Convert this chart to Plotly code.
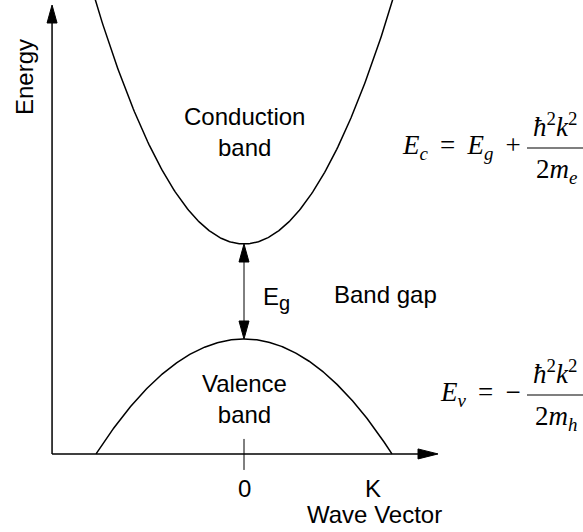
import numpy as np
import plotly.graph_objects as go

# Band parameters (energies in units of the gap, k in units of K)
E_GAP = 1.0
C_COND = 1.93      # hbar^2 / 2 m_e
C_VAL = 0.92       # hbar^2 / 2 m_h
E_AXIS = -1.21     # energy at which the k axis is drawn
K_AXIS_START = -1.488
K_AXIS_END = 1.504

tick_k = [0.0, 1.0]
tick_labels = ["0", "K"]

band_labels = ["Conduction<br>band", "Valence<br>band"]

W, H = 583, 532
X_RANGE = [-1.8915, 2.6279]
Y_RANGE = [-2.0316, 3.5684]


def kx(px):
    return X_RANGE[0] + px / W * (X_RANGE[1] - X_RANGE[0])


def ey(py):
    return Y_RANGE[1] - py / H * (Y_RANGE[1] - Y_RANGE[0])


def dk(dpx):
    return dpx / W * (X_RANGE[1] - X_RANGE[0])


def de(dpx):
    return dpx / H * (Y_RANGE[1] - Y_RANGE[0])


k_cond = np.linspace(-1.4, 1.4, 301)
e_cond = E_GAP + C_COND * k_cond ** 2
k_edge = np.sqrt(-E_AXIS / C_VAL)
k_val = np.linspace(-k_edge, k_edge, 301)
e_val = -C_VAL * k_val ** 2

fig = go.Figure()
fig.add_trace(go.Scatter(x=k_cond, y=e_cond, mode="lines",
                         line=dict(color="black", width=1.5), hoverinfo="skip"))
fig.add_trace(go.Scatter(x=k_val, y=e_val, mode="lines",
                         line=dict(color="black", width=1.5), hoverinfo="skip"))

shapes = []
line_style = dict(color="black", width=1.5)
# energy axis
shapes.append(dict(type="line", x0=K_AXIS_START, x1=K_AXIS_START, y0=E_AXIS,
                   y1=ey(20), line=line_style))
tip_y = ey(5)
shapes.append(dict(type="path",
                   path=f"M {K_AXIS_START},{tip_y} L {K_AXIS_START - dk(5)},{tip_y - de(18)} "
                        f"L {K_AXIS_START + dk(5)},{tip_y - de(18)} Z",
                   fillcolor="black", line=dict(color="black", width=1)))
# wave vector axis
shapes.append(dict(type="line", x0=K_AXIS_START, x1=K_AXIS_END - dk(15), y0=E_AXIS,
                   y1=E_AXIS, line=line_style))
shapes.append(dict(type="path",
                   path=f"M {K_AXIS_END},{E_AXIS} L {K_AXIS_END - dk(20)},{E_AXIS + de(5)} "
                        f"L {K_AXIS_END - dk(20)},{E_AXIS - de(5)} Z",
                   fillcolor="black", line=dict(color="black", width=1)))
# tick at k = 0
shapes.append(dict(type="line", x0=0, x1=0, y0=E_AXIS + de(15), y1=E_AXIS - de(16),
                   line=dict(color="black", width=1)))
# band-gap double arrow
shapes.append(dict(type="line", x0=0, x1=0, y0=de(16), y1=E_GAP - de(16),
                   line=dict(color="black", width=1)))
for tip, sgn in [(E_GAP, -1), (0.0, 1)]:
    base = tip + sgn * de(18)
    shapes.append(dict(type="path",
                       path=f"M 0,{tip} L {-dk(5)},{base} L {dk(5)},{base} Z",
                       fillcolor="black", line=dict(color="black", width=1)))

SANS = dict(family="Liberation Sans, Arial, sans-serif", size=24, color="black")
SERIF = dict(family="Liberation Serif, Times New Roman, serif", size=27, color="black")


def px_ann(text, x, y, font, xanchor="center", yanchor="middle", angle=0):
    return dict(text=text, x=x / W, y=1 - y / H, xref="paper", yref="paper",
                showarrow=False, font=font, xanchor=xanchor, yanchor=yanchor,
                textangle=angle, align="center")


annotations = [
    dict(text=band_labels[0], x=0, y=ey(132), xref="x", yref="y", showarrow=False,
         font=SANS, align="center"),
    dict(text=band_labels[1], x=0, y=ey(399), xref="x", yref="y", showarrow=False,
         font=SANS, align="center"),
    px_ann("E<sub><span style='font-size:20px'>g</span></sub>", 261, 298, SANS,
           xanchor="left"),
    px_ann("Band gap", 385, 294, SANS),
    px_ann("Energy", 24, 77, SANS, angle=-90),
    px_ann("Wave Vector", 374, 514, SANS),
]
for k, lab in zip(tick_k, tick_labels):
    annotations.append(dict(text=lab, x=k, y=ey(488), xref="x", yref="y",
                            showarrow=False, font=SANS))

NB = "\u2009"  # thin space around relations, as in typeset math
# conduction band dispersion
annotations += [
    px_ann(f"<i>E</i><sub><i>c</i></sub>{NB} = {NB}<i>E</i><sub><i>g</i></sub>{NB} +",
           523, 147, SERIF, xanchor="right"),
    px_ann("<i>ħ</i><sup>2</sup><i>k</i><sup>2</sup>", 555, 125, SERIF),
    px_ann("2<i>m</i><sub><i>e</i></sub>", 556, 171, SERIF),
]
shapes.append(dict(type="line", xref="paper", yref="paper", x0=527 / W, x1=1.0,
                   y0=1 - 148 / H, y1=1 - 148 / H, line=dict(color="black", width=1.2)))
# valence band dispersion
annotations += [
    px_ann(f"<i>E</i><sub><i>v</i></sub>{NB} = {NB}−", 523, 394, SERIF, xanchor="right"),
    px_ann("<i>ħ</i><sup>2</sup><i>k</i><sup>2</sup>", 555, 372, SERIF),
    px_ann("2<i>m</i><sub><i>h</i></sub>", 556, 418, SERIF),
]
shapes.append(dict(type="line", xref="paper", yref="paper", x0=527 / W, x1=1.0,
                   y0=1 - 395 / H, y1=1 - 395 / H, line=dict(color="black", width=1.2)))

fig.update_layout(
    width=W, height=H,
    margin=dict(l=0, r=0, t=0, b=0),
    paper_bgcolor="white", plot_bgcolor="white",
    showlegend=False,
    xaxis=dict(range=X_RANGE, visible=False, fixedrange=True),
    yaxis=dict(range=Y_RANGE, visible=False, fixedrange=True),
    shapes=shapes,
    annotations=annotations,
)

fig.write_html("out.html")
